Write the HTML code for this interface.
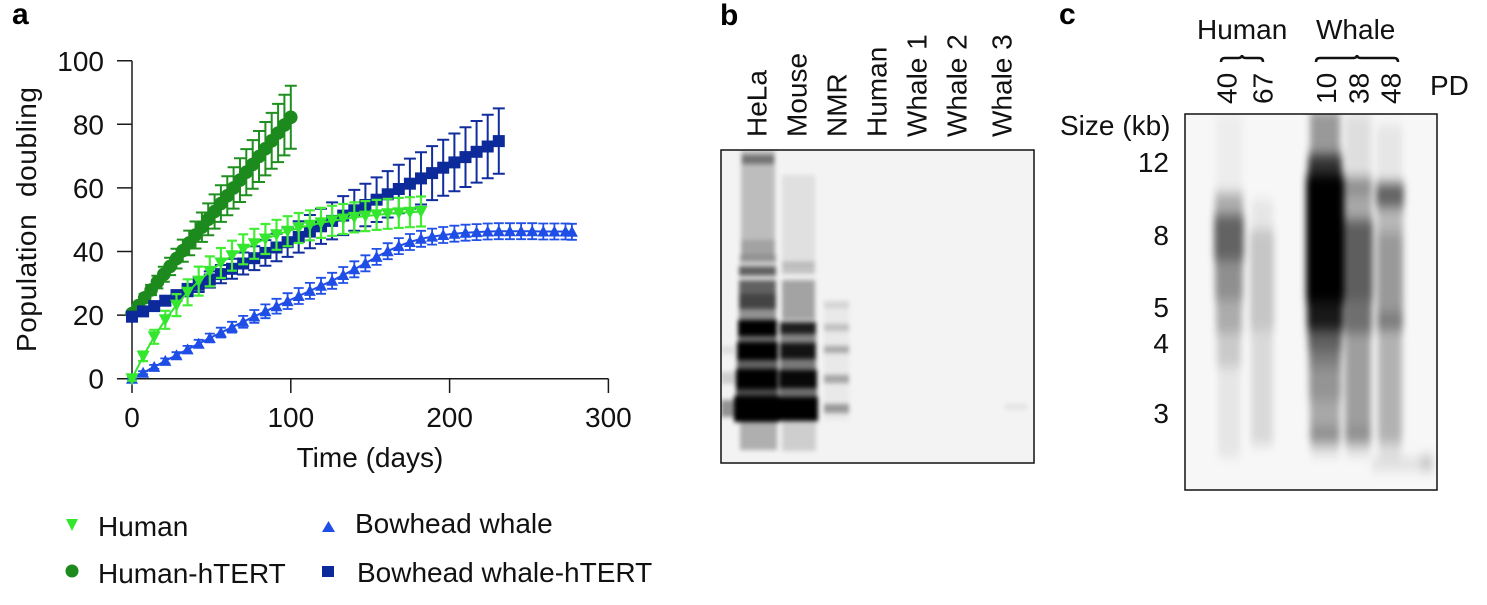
<!DOCTYPE html>
<html><head><meta charset="utf-8"><style>
html,body{margin:0;padding:0;background:#fff;}
svg{display:block;font-family:"Liberation Sans",Arial,sans-serif;}
</style></head><body>
<svg width="1487" height="605" viewBox="0 0 1487 605" xmlns="http://www.w3.org/2000/svg">
<defs>
<marker id="mc" markerUnits="userSpaceOnUse" viewBox="-8 -8 16 16" markerWidth="16" markerHeight="16" refX="0" refY="0"><circle r="6.8" fill="#1c8a1c"/></marker>
<marker id="md" markerUnits="userSpaceOnUse" viewBox="-8 -8 16 16" markerWidth="16" markerHeight="16" refX="0" refY="0"><path d="M-6.5,-5.5 L6.5,-5.5 L0,6.5 Z" fill="#35e62e"/></marker>
<marker id="mu" markerUnits="userSpaceOnUse" viewBox="-8 -8 16 16" markerWidth="16" markerHeight="16" refX="0" refY="0"><path d="M-6,5 L6,5 L0,-6 Z" fill="#1f4ee6"/></marker>
<marker id="ms" markerUnits="userSpaceOnUse" viewBox="-8 -8 16 16" markerWidth="16" markerHeight="16" refX="0" refY="0"><rect x="-6" y="-6" width="12" height="12" fill="#0d2a9b"/></marker>
<clipPath id="cb"><rect x="721" y="150" width="313" height="313"/></clipPath>
<clipPath id="cc"><rect x="1185" y="114" width="252" height="376"/></clipPath>
<filter id="fb" x="-20%" y="-20%" width="140%" height="140%"><feGaussianBlur stdDeviation="2 2.3"/></filter>
<filter id="fc" x="-20%" y="-20%" width="140%" height="140%"><feGaussianBlur stdDeviation="3.5 6"/></filter>
</defs>

<!-- Panel a -->
<text x="12" y="24" font-size="30" font-weight="bold" fill="#000">a</text>
<g stroke="#1a1a1a" stroke-width="1.5" fill="none">
<path d="M132,60.7 V393 M117,378.7 H608.4"/>
<path d="M117,60.7H132 M117,124.3H132 M117,187.9H132 M117,251.5H132 M117,315.1H132"/>
<path d="M290.8,378.7V393 M449.6,378.7V393 M608.4,378.7V393"/>
</g>
<g font-size="28" fill="#111" text-anchor="end">
<text x="104" y="71">100</text>
<text x="104" y="134.5">80</text>
<text x="104" y="198">60</text>
<text x="104" y="261.5">40</text>
<text x="104" y="325">20</text>
<text x="104" y="388.5">0</text>
</g>
<g font-size="28" fill="#111" text-anchor="middle">
<text x="132" y="427">0</text>
<text x="290.8" y="427">100</text>
<text x="449.6" y="427">200</text>
<text x="608.4" y="427">300</text>
<text x="370" y="467">Time (days)</text>
</g>
<text transform="translate(36,219.5) rotate(-90)" font-size="28" fill="#111" text-anchor="middle" textLength="265" lengthAdjust="spacing" style="white-space:pre">Population  doubling</text>

<!-- Bowhead whale (blue up triangles) -->
<path fill="none" stroke="#2050e6" stroke-width="1.8" d="M132,377.7v2m-5,0h10m0,-2h-10 M143.1,371.2v3m-5,0h10m0,-3h-10 M154.2,364.9v4m-5,0h10m0,-4h-10 M165.3,358.4v5m-5,0h10m0,-5h-10 M176.5,352.2v6m-5,0h10m0,-6h-10 M187.6,345.9v7m-5,0h10m0,-7h-10 M198.7,339.8v7.8m-5,0h10m0,-7.8h-10 M209.8,333.6v8.8m-5,0h10m0,-8.8h-10 M220.9,327.7v9.8m-5,0h10m0,-9.8h-10 M232,321.8v10.8m-5,0h10m0,-10.8h-10 M243.2,315.9v11.8m-5,0h10m0,-11.8h-10 M254.3,310v12.8m-5,0h10m0,-12.8h-10 M265.4,304.4v13.8m-5,0h10m0,-13.8h-10 M276.5,298.8v14.8m-5,0h10m0,-14.8h-10 M287.6,293.2v15.8m-5,0h10m0,-15.8h-10 M298.7,288v16m-5,0h10m0,-16h-10 M309.9,282.9v16m-5,0h10m0,-16h-10 M321,277.8v16m-5,0h10m0,-16h-10 M332.1,272.8v16m-5,0h10m0,-16h-10 M343.2,267v16m-5,0h10m0,-16h-10 M354.3,261.3v16m-5,0h10m0,-16h-10 M365.4,255.3v16m-5,0h10m0,-16h-10 M376.6,248.9v16m-5,0h10m0,-16h-10 M387.7,243.2v16m-5,0h10m0,-16h-10 M398.8,238.1v16m-5,0h10m0,-16h-10 M409.9,234v16m-5,0h10m0,-16h-10 M421,230.8v16m-5,0h10m0,-16h-10 M432.1,228.6v16m-5,0h10m0,-16h-10 M443.2,227v16m-5,0h10m0,-16h-10 M454.4,225.7v16m-5,0h10m0,-16h-10 M465.5,224.7v16m-5,0h10m0,-16h-10 M476.6,224.1v16m-5,0h10m0,-16h-10 M487.7,223.5v16m-5,0h10m0,-16h-10 M498.8,223.2v16m-5,0h10m0,-16h-10 M509.9,223.2v16m-5,0h10m0,-16h-10 M521.1,223.2v16m-5,0h10m0,-16h-10 M532.2,223.2v16m-5,0h10m0,-16h-10 M543.3,223.5v16m-5,0h10m0,-16h-10 M554.4,223.5v16m-5,0h10m0,-16h-10 M565.5,223.5v16m-5,0h10m0,-16h-10 M571.9,223.8v16m-5,0h10m0,-16h-10"/>
<polyline fill="none" stroke="#1f4ee6" stroke-width="2" marker-start="url(#mu)" marker-mid="url(#mu)" marker-end="url(#mu)" points="132,378.7 143.1,372.7 154.2,366.9 165.3,360.9 176.5,355.2 187.6,349.4 198.7,343.7 209.8,338 220.9,332.6 232,327.2 243.2,321.8 254.3,316.4 265.4,311.3 276.5,306.2 287.6,301.1 298.7,296 309.9,290.9 321,285.8 332.1,280.8 343.2,275 354.3,269.3 365.4,263.3 376.6,256.9 387.7,251.2 398.8,246.1 409.9,242 421,238.8 432.1,236.6 443.2,235 454.4,233.7 465.5,232.7 476.6,232.1 487.7,231.5 498.8,231.2 509.9,231.2 521.1,231.2 532.2,231.2 543.3,231.5 554.4,231.5 565.5,231.5 571.9,231.8"/>

<!-- Human-hTERT (dark green circles) -->
<path fill="none" stroke="#1f8f1f" stroke-width="2" d="M132,312v3m-6,0h12m0,-3h-12 M138.4,303v5.4m-6,0h12m0,-5.4h-12 M144.7,293.9v7.8m-6,0h12m0,-7.8h-12 M151.1,284.9v10.2m-6,0h12m0,-10.2h-12 M157.4,275.8v12.6m-6,0h12m0,-12.6h-12 M163.8,266.8v15m-6,0h12m0,-15h-12 M170.1,257.7v17.4m-6,0h12m0,-17.4h-12 M176.5,248.7v19.8m-6,0h12m0,-19.8h-12 M182.8,239.6v22.2m-6,0h12m0,-22.2h-12 M189.2,230.6v24.6m-6,0h12m0,-24.6h-12 M195.5,221.5v27m-6,0h12m0,-27h-12 M201.9,212.5v29.4m-6,0h12m0,-29.4h-12 M208.2,203.4v31.8m-6,0h12m0,-31.8h-12 M214.6,194.4v34.2m-6,0h12m0,-34.2h-12 M220.9,185.3v36.6m-6,0h12m0,-36.6h-12 M227.3,176.3v39m-6,0h12m0,-39h-12 M233.6,167.2v41.4m-6,0h12m0,-41.4h-12 M240,158.2v43.8m-6,0h12m0,-43.8h-12 M246.3,149.1v46.2m-6,0h12m0,-46.2h-12 M252.7,140.1v48.6m-6,0h12m0,-48.6h-12 M259,131v51m-6,0h12m0,-51h-12 M265.4,122v53.4m-6,0h12m0,-53.4h-12 M271.7,112.9v55.8m-6,0h12m0,-55.8h-12 M278.1,103.9v58.2m-6,0h12m0,-58.2h-12 M284.4,94.8v60.6m-6,0h12m0,-60.6h-12 M290.8,85.8v63m-6,0h12m0,-63h-12"/>
<polyline fill="none" stroke="#1c8a1c" stroke-width="3" marker-start="url(#mc)" marker-mid="url(#mc)" marker-end="url(#mc)" points="132,313.5 138.4,305.7 144.7,297.8 151.1,290 157.4,282.1 163.8,274.3 170.1,266.4 176.5,258.6 182.8,250.7 189.2,242.9 195.5,235 201.9,227.2 208.2,219.3 214.6,211.5 220.9,203.6 227.3,195.8 233.6,187.9 240,180.1 246.3,172.2 252.7,164.4 259,156.5 265.4,148.7 271.7,140.8 278.1,133 284.4,125.1 290.8,117.3"/>

<!-- Bowhead whale-hTERT (navy squares) -->
<path fill="none" stroke="#112d9e" stroke-width="2" d="M132,315.2v3m-6,0h12m0,-3h-12 M143.1,309v4.8m-6,0h12m0,-4.8h-12 M154.2,302.7v6.8m-6,0h12m0,-6.8h-12 M165.3,296.4v8.6m-6,0h12m0,-8.6h-12 M176.5,290.1v10.6m-6,0h12m0,-10.6h-12 M187.6,283.9v12.4m-6,0h12m0,-12.4h-12 M198.7,277.6v14.4m-6,0h12m0,-14.4h-12 M209.8,271.4v16.2m-6,0h12m0,-16.2h-12 M220.9,265v18.2m-6,0h12m0,-18.2h-12 M232,258.8v20m-6,0h12m0,-20h-12 M243.2,252.5v22m-6,0h12m0,-22h-12 M254.3,246.3v23.8m-6,0h12m0,-23.8h-12 M265.4,240.1v25.6m-6,0h12m0,-25.6h-12 M276.5,233.7v27.6m-6,0h12m0,-27.6h-12 M287.6,227.5v29.4m-6,0h12m0,-29.4h-12 M298.7,221.2v31.4m-6,0h12m0,-31.4h-12 M309.9,215v33.2m-6,0h12m0,-33.2h-12 M321,208.7v35.2m-6,0h12m0,-35.2h-12 M332.1,202.4v37m-6,0h12m0,-37h-12 M343.2,196.1v39m-6,0h12m0,-39h-12 M354.3,189.9v40.8m-6,0h12m0,-40.8h-12 M365.4,183.7v42.6m-6,0h12m0,-42.6h-12 M376.6,177.4v44.6m-6,0h12m0,-44.6h-12 M387.7,171.1v46.4m-6,0h12m0,-46.4h-12 M398.8,164.8v48.4m-6,0h12m0,-48.4h-12 M409.9,158.6v50.2m-6,0h12m0,-50.2h-12 M421,152.3v52.2m-6,0h12m0,-52.2h-12 M432.1,146.1v54m-6,0h12m0,-54h-12 M443.2,139.7v56m-6,0h12m0,-56h-12 M454.4,133.5v57.8m-6,0h12m0,-57.8h-12 M465.5,127.2v59.8m-6,0h12m0,-59.8h-12 M476.6,121v61.6m-6,0h12m0,-61.6h-12 M487.7,114.8v63.4m-6,0h12m0,-63.4h-12 M498.8,108.4v65.4m-6,0h12m0,-65.4h-12"/>
<polyline fill="none" stroke="#0d2a9b" stroke-width="2" marker-start="url(#ms)" marker-mid="url(#ms)" marker-end="url(#ms)" points="132,316.7 143.1,311.4 154.2,306.1 165.3,300.7 176.5,295.4 187.6,290.1 198.7,284.8 209.8,279.5 220.9,274.1 232,268.8 243.2,263.5 254.3,258.2 265.4,252.9 276.5,247.5 287.6,242.2 298.7,236.9 309.9,231.6 321,226.3 332.1,220.9 343.2,215.6 354.3,210.3 365.4,205 376.6,199.7 387.7,194.3 398.8,189 409.9,183.7 421,178.4 432.1,173.1 443.2,167.7 454.4,162.4 465.5,157.1 476.6,151.8 487.7,146.5 498.8,141.1"/>

<!-- Human (lime down triangles) -->
<path fill="none" stroke="#44ec36" stroke-width="2.2" d="M132,376.7v4m-5,0h10m0,-4h-10 M143.1,351.5v9.6m-5,0h10m0,-9.6h-10 M154.2,329.8v14m-5,0h10m0,-14h-10 M165.3,310.8v18m-5,0h10m0,-18h-10 M176.5,294.1v22m-5,0h10m0,-22h-10 M187.6,279.3v26m-5,0h10m0,-26h-10 M198.7,266.6v29m-5,0h10m0,-29h-10 M209.8,256.4v30m-5,0h10m0,-30h-10 M220.9,248v30m-5,0h10m0,-30h-10 M232,240.7v30m-5,0h10m0,-30h-10 M243.2,234.3v30m-5,0h10m0,-30h-10 M254.3,228.8v30m-5,0h10m0,-30h-10 M265.4,224v30m-5,0h10m0,-30h-10 M276.5,219.8v30m-5,0h10m0,-30h-10 M287.6,216.2v30m-5,0h10m0,-30h-10 M298.7,213v30m-5,0h10m0,-30h-10 M309.9,210.3v30m-5,0h10m0,-30h-10 M321,207.9v30m-5,0h10m0,-30h-10 M332.1,205.8v30m-5,0h10m0,-30h-10 M343.2,204v30m-5,0h10m0,-30h-10 M354.3,202.4v30m-5,0h10m0,-30h-10 M365.4,201.1v30m-5,0h10m0,-30h-10 M376.6,199.9v30m-5,0h10m0,-30h-10 M387.7,198.8v30m-5,0h10m0,-30h-10 M398.8,197.9v30m-5,0h10m0,-30h-10 M409.9,197.2v30m-5,0h10m0,-30h-10 M421,196.5v30m-5,0h10m0,-30h-10"/>
<polyline fill="none" stroke="#35e62e" stroke-width="2" marker-start="url(#md)" marker-mid="url(#md)" marker-end="url(#md)" points="132,378.7 143.1,356.3 154.2,336.8 165.3,319.8 176.5,305.1 187.6,292.3 198.7,281.1 209.8,271.4 220.9,263 232,255.7 243.2,249.3 254.3,243.8 265.4,239 276.5,234.8 287.6,231.2 298.7,228 309.9,225.3 321,222.9 332.1,220.8 343.2,219 354.3,217.4 365.4,216.1 376.6,214.9 387.7,213.8 398.8,212.9 409.9,212.2 421,211.5"/>

<!-- Legend -->
<path d="M66,519 L78,519 L72,531 Z" fill="#35e62e"/>
<circle cx="72" cy="571" r="6.5" fill="#1c8a1c"/>
<path d="M322,532 L335,532 L328.5,521 Z" fill="#1f4ee6"/>
<rect x="322" y="566" width="12" height="11" fill="#0d2a9b"/>
<g font-size="28" fill="#111">
<text x="98" y="536">Human</text>
<text x="98" y="583">Human-hTERT</text>
<text x="355" y="533">Bowhead whale</text>
<text x="357" y="582">Bowhead whale-hTERT</text>
</g>

<!-- Panel b -->
<text x="720" y="25" font-size="30" font-weight="bold" fill="#000">b</text>
<g font-size="28" fill="#111">
<text transform="translate(766.7,137) rotate(-90)">HeLa</text>
<text transform="translate(806.7,137) rotate(-90)">Mouse</text>
<text transform="translate(846.7,137) rotate(-90)">NMR</text>
<text transform="translate(886.7,137) rotate(-90)">Human</text>
<text transform="translate(926.7,137) rotate(-90)">Whale 1</text>
<text transform="translate(966.7,137) rotate(-90)">Whale 2</text>
<text transform="translate(1011.7,137) rotate(-90)">Whale 3</text>
</g>
<g clip-path="url(#cb)">
<rect x="721" y="150" width="313" height="313" fill="#f3f3f3"/>
<g filter="url(#fb)" fill="#000">
<rect x="741" y="150" width="34" height="105" opacity=".22"/>
<rect x="742" y="155" width="32" height="9" opacity=".4"/>
<rect x="741" y="240" width="34" height="18" opacity=".15"/>
<rect x="740" y="255" width="36" height="8" opacity=".35"/>
<rect x="739" y="266" width="37" height="10" opacity=".6"/>
<rect x="739" y="280" width="37" height="14" opacity=".6"/>
<rect x="739" y="294" width="37" height="15" opacity=".72"/>
<rect x="739" y="309" width="37" height="11" opacity=".4"/>
<rect x="738" y="320" width="39" height="16" opacity="1"/>
<rect x="738" y="336" width="39" height="6" opacity=".55"/>
<rect x="737" y="342" width="41" height="18" opacity="1"/>
<rect x="737" y="360" width="41" height="9" opacity=".6"/>
<rect x="736" y="369" width="42" height="20" opacity="1"/>
<rect x="736" y="389" width="42" height="7" opacity=".7"/>
<rect x="734" y="396" width="45" height="26" opacity="1"/>
<rect x="740" y="422" width="37" height="28" opacity=".28"/>
<rect x="721" y="400" width="16" height="17" opacity=".4"/>
<rect x="721" y="372" width="15" height="12" opacity=".15"/>
<rect x="721" y="346" width="14" height="8" opacity=".08"/>
<rect x="782" y="175" width="33" height="90" opacity=".08"/>
<rect x="782" y="262" width="33" height="12" opacity=".2"/>
<rect x="782" y="280" width="33" height="40" opacity=".33"/>
<rect x="780" y="322" width="36" height="12" opacity=".88"/>
<rect x="780" y="334" width="36" height="9" opacity=".45"/>
<rect x="780" y="343" width="36" height="16" opacity=".92"/>
<rect x="780" y="359" width="36" height="11" opacity=".5"/>
<rect x="779" y="370" width="38" height="18" opacity=".97"/>
<rect x="779" y="388" width="38" height="9" opacity=".55"/>
<rect x="778" y="397" width="40" height="24" opacity="1"/>
<rect x="782" y="421" width="34" height="30" opacity=".15"/>
<rect x="824" y="300" width="25" height="120" opacity=".04"/>
<rect x="824" y="302" width="25" height="6" opacity=".1"/>
<rect x="824" y="324" width="25" height="7" opacity=".18"/>
<rect x="824" y="346" width="25" height="7" opacity=".28"/>
<rect x="824" y="375" width="25" height="8" opacity=".3"/>
<rect x="824" y="404" width="25" height="9" opacity=".35"/>
<rect x="1005" y="404" width="22" height="6" opacity=".06"/>
</g>
</g>
<rect x="721" y="150" width="313" height="313" fill="none" stroke="#111" stroke-width="1.5"/>

<!-- Panel c -->
<text x="1059" y="24" font-size="30" font-weight="bold" fill="#000">c</text>
<g font-size="28" fill="#111">
<text x="1197" y="39">Human</text>
<text x="1316" y="39">Whale</text>
<text x="1430" y="95">PD</text>
<text x="1060" y="135">Size (kb)</text>
<g text-anchor="end">
<text x="1169" y="172">12</text>
<text x="1169" y="245">8</text>
<text x="1169" y="317">5</text>
<text x="1169" y="353">4</text>
<text x="1169" y="423">3</text>
</g>
<text transform="translate(1236.7,104) rotate(-90)">40</text>
<text transform="translate(1272.7,104) rotate(-90)">67</text>
<text transform="translate(1336,104) rotate(-90)">10</text>
<text transform="translate(1368.3,104) rotate(-90)">38</text>
<text transform="translate(1400.7,104) rotate(-90)">48</text>
</g>
<path fill="none" stroke="#111" stroke-width="2.5" d="M1221,62 Q1221,58 1225,58 L1238,58 Q1242,58 1242,55 Q1242,58 1246,58 L1259,58 Q1263,58 1263,62"/>
<path fill="none" stroke="#111" stroke-width="2.5" d="M1316,62 Q1316,58 1320,58 L1353,58 Q1357,58 1357,55 Q1357,58 1361,58 L1394,58 Q1398,58 1398,62"/>
<g clip-path="url(#cc)">
<rect x="1185" y="114" width="252" height="376" fill="#f7f7f7"/>
<g filter="url(#fc)" fill="#000">
<rect x="1216" y="114" width="26" height="80" opacity=".04"/>
<rect x="1215" y="193" width="28" height="22" opacity=".3"/>
<rect x="1214" y="215" width="30" height="45" opacity=".6"/>
<rect x="1215" y="260" width="28" height="40" opacity=".42"/>
<rect x="1216" y="300" width="26" height="33" opacity=".3"/>
<rect x="1217" y="333" width="24" height="34" opacity=".18"/>
<rect x="1218" y="367" width="22" height="90" opacity=".07"/>
<rect x="1250" y="230" width="24" height="100" opacity=".2"/>
<rect x="1251" y="330" width="22" height="115" opacity=".12"/>
<rect x="1252" y="200" width="21" height="30" opacity=".07"/>
<rect x="1310" y="110" width="30" height="45" opacity=".38"/>
<rect x="1308" y="155" width="34" height="20" opacity=".8"/>
<rect x="1306" y="175" width="38" height="127" opacity="1"/>
<rect x="1307" y="302" width="36" height="28" opacity=".9"/>
<rect x="1308" y="330" width="34" height="20" opacity=".62"/>
<rect x="1309" y="350" width="32" height="17" opacity=".5"/>
<rect x="1309" y="367" width="32" height="33" opacity=".4"/>
<rect x="1310" y="400" width="30" height="27" opacity=".32"/>
<rect x="1310" y="427" width="30" height="16" opacity=".42"/>
<rect x="1311" y="443" width="28" height="12" opacity=".12"/>
<rect x="1345" y="114" width="26" height="66" opacity=".1"/>
<rect x="1344" y="178" width="28" height="17" opacity=".42"/>
<rect x="1344" y="195" width="28" height="25" opacity=".32"/>
<rect x="1343" y="220" width="30" height="80" opacity=".62"/>
<rect x="1344" y="300" width="28" height="33" opacity=".55"/>
<rect x="1345" y="333" width="26" height="94" opacity=".36"/>
<rect x="1345" y="427" width="26" height="16" opacity=".42"/>
<rect x="1346" y="443" width="24" height="12" opacity=".12"/>
<rect x="1377" y="125" width="25" height="58" opacity=".07"/>
<rect x="1376" y="183" width="28" height="24" opacity=".6"/>
<rect x="1377" y="207" width="26" height="26" opacity=".26"/>
<rect x="1377" y="233" width="26" height="80" opacity=".38"/>
<rect x="1377" y="313" width="26" height="17" opacity=".5"/>
<rect x="1378" y="330" width="24" height="113" opacity=".28"/>
<rect x="1379" y="443" width="22" height="15" opacity=".1"/>
<rect x="1372" y="458" width="60" height="12" opacity=".1"/>
<rect x="1420" y="455" width="14" height="15" opacity=".12"/>
</g>
</g>
<rect x="1185" y="114" width="252" height="376" fill="none" stroke="#111" stroke-width="1.5"/>
</svg>
</body></html>
